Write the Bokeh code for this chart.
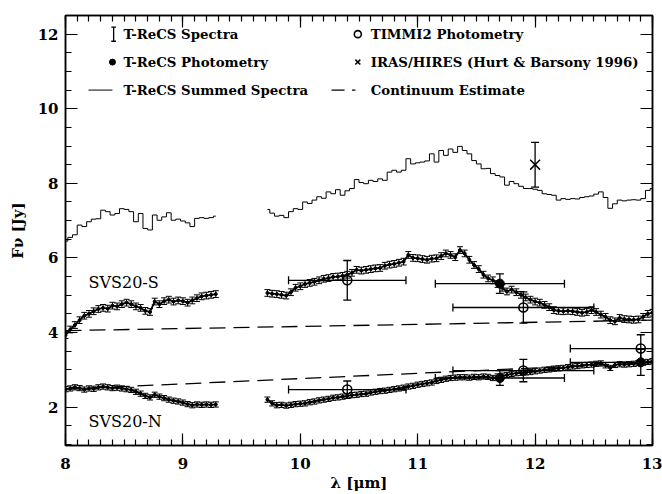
from bokeh.plotting import figure
from bokeh.models import (ColumnDataSource, Whisker, TeeHead, LinearAxis, Range1d,
                          SingleIntervalTicker, CustomLabelingPolicy)
from bokeh.core.properties import value
from bokeh.embed import file_html
from bokeh.resources import INLINE

# ---------------------------------------------------------------------------
# T-ReCS spectra, sampled on two wavelength segments (gap at the 9.6 um ozone band)
wl_a = [8.00, 8.04, 8.08, 8.12, 8.16, 8.20, 8.24, 8.28, 8.32, 8.36,
        8.40, 8.44, 8.48, 8.52, 8.56, 8.60, 8.64, 8.68, 8.72, 8.76,
        8.80, 8.84, 8.88, 8.92, 8.96, 9.00, 9.04, 9.08, 9.12, 9.16,
        9.20, 9.24, 9.28]
wl_b = [9.72, 9.76, 9.80, 9.84, 9.88, 9.92, 9.96, 10.00, 10.04, 10.08,
        10.12, 10.16, 10.20, 10.24, 10.28, 10.32, 10.36, 10.40, 10.44, 10.48,
        10.52, 10.56, 10.60, 10.64, 10.68, 10.72, 10.76, 10.80, 10.84, 10.88,
        10.92, 10.96, 11.00, 11.04, 11.08, 11.12, 11.16, 11.20, 11.24, 11.28,
        11.32, 11.36, 11.40, 11.44, 11.48, 11.52, 11.56, 11.60, 11.64, 11.68,
        11.72, 11.76, 11.80, 11.84, 11.88, 11.92, 11.96, 12.00, 12.04, 12.08,
        12.12, 12.16, 12.20, 12.24, 12.28, 12.32, 12.36, 12.40, 12.44, 12.48,
        12.52, 12.56, 12.60, 12.64, 12.68, 12.72, 12.76, 12.80, 12.84, 12.88,
        12.92, 12.96, 13.00]

# summed (N + S) spectrum [Jy]
summed_a = [6.45, 6.55, 6.62, 6.88, 6.84, 6.97, 7.04, 7.05, 7.28, 7.24,
            7.15, 7.19, 7.32, 7.30, 7.24, 6.97, 7.19, 6.79, 6.75, 7.15,
            7.01, 7.10, 7.21, 7.01, 7.04, 6.99, 6.94, 6.84, 7.06, 7.08,
            7.06, 7.08, 7.12]
summed_b = [7.30, 7.20, 7.12, 7.14, 7.08, 7.24, 7.32, 7.30, 7.50, 7.46,
            7.55, 7.64, 7.60, 7.77, 7.72, 7.83, 7.68, 7.80, 7.86, 8.10,
            8.02, 7.99, 8.08, 8.05, 8.12, 8.08, 8.30, 8.35, 8.30, 8.35,
            8.66, 8.52, 8.55, 8.57, 8.60, 8.79, 8.57, 8.88, 8.75, 8.92,
            8.83, 8.99, 8.88, 8.79, 8.61, 8.52, 8.39, 8.40, 8.26, 8.21,
            8.17, 7.95, 8.05, 7.99, 7.92, 7.86, 7.86, 7.84, 7.81, 7.72,
            7.70, 7.68, 7.55, 7.59, 7.57, 7.59, 7.58, 7.62, 7.64, 7.66,
            7.71, 7.77, 7.62, 7.33, 7.45, 7.55, 7.53, 7.55, 7.56, 7.55,
            7.59, 7.81, 7.86]

# SVS20-S spectrum [Jy]
svs_s_a = [3.93, 4.08, 4.20, 4.33, 4.45, 4.50, 4.57, 4.63, 4.66, 4.64,
           4.72, 4.70, 4.76, 4.80, 4.76, 4.70, 4.66, 4.58, 4.55, 4.83,
           4.76, 4.84, 4.88, 4.83, 4.86, 4.84, 4.80, 4.86, 4.92, 4.97,
           4.99, 5.01, 5.03]
svs_s_b = [5.06, 5.04, 5.03, 5.01, 4.99, 5.08, 5.20, 5.24, 5.30, 5.33,
           5.36, 5.40, 5.44, 5.46, 5.49, 5.50, 5.52, 5.55, 5.60, 5.68,
           5.66, 5.68, 5.70, 5.72, 5.73, 5.79, 5.82, 5.84, 5.87, 5.90,
           6.08, 6.00, 5.99, 5.97, 5.95, 5.98, 5.99, 6.05, 6.12, 6.08,
           6.02, 6.21, 6.12, 5.95, 5.81, 5.70, 5.55, 5.45, 5.40, 5.30,
           5.20, 5.10, 5.15, 5.08, 5.01, 4.94, 4.88, 4.83, 4.80, 4.74,
           4.68, 4.60, 4.58, 4.57, 4.58, 4.57, 4.55, 4.53, 4.55, 4.60,
           4.55, 4.48, 4.42, 4.33, 4.30, 4.39, 4.36, 4.35, 4.34, 4.35,
           4.42, 4.50, 4.53]
svs_s_err = 0.09

# SVS20-N spectrum [Jy]
svs_n_a = [2.48, 2.50, 2.53, 2.51, 2.47, 2.50, 2.49, 2.53, 2.55, 2.53,
           2.51, 2.52, 2.50, 2.48, 2.46, 2.41, 2.36, 2.30, 2.26, 2.33,
           2.28, 2.24, 2.20, 2.17, 2.15, 2.12, 2.08, 2.05, 2.07, 2.06,
           2.07, 2.06, 2.07]
svs_n_b = [2.20, 2.10, 2.05, 2.06, 2.04, 2.06, 2.08, 2.09, 2.10, 2.13,
           2.15, 2.18, 2.20, 2.22, 2.25, 2.26, 2.28, 2.30, 2.32, 2.33,
           2.35, 2.36, 2.39, 2.41, 2.43, 2.44, 2.46, 2.48, 2.50, 2.52,
           2.55, 2.57, 2.60, 2.62, 2.64, 2.66, 2.70, 2.73, 2.76, 2.78,
           2.79, 2.80, 2.80, 2.79, 2.81, 2.80, 2.82, 2.81, 2.78, 2.82,
           2.84, 2.86, 2.89, 2.91, 2.92, 2.93, 2.94, 2.96, 2.98, 3.00,
           3.01, 3.03, 3.04, 3.05, 3.07, 3.09, 3.10, 3.12, 3.13, 3.14,
           3.16, 3.17, 3.12, 3.05, 3.13, 3.15, 3.14, 3.15, 3.16, 3.18,
           3.19, 3.21, 3.23]
svs_n_err = 0.07

# continuum estimates (straight lines between the end points)
cont_wl = [8.0, 13.0]
cont_s = [4.05, 4.33]
cont_n = [2.48, 3.19]

# TIMMI2 photometry (open circles)
timmi_wl = [10.4, 11.9, 10.4, 11.9, 12.9]
timmi_f = [5.40, 4.67, 2.47, 2.98, 3.57]
timmi_wl_err = [0.5, 0.6, 0.5, 0.6, 0.6]
timmi_f_err = [0.53, 0.42, 0.23, 0.30, 0.37]

# T-ReCS photometry (filled circles)
trecs_wl = [11.7, 11.7, 12.9]
trecs_f = [5.31, 2.78, 3.20]
trecs_wl_err = [0.55, 0.55, 0.6]
trecs_f_err = [0.26, 0.20, 0.35]

# IRAS/HIRES point
iras_wl = [12.0]
iras_f = [8.5]
iras_f_err = [0.6]

# ---------------------------------------------------------------------------
FONT = "DejaVu Serif"

p = figure(width=662, height=494, x_range=Range1d(8, 13), y_range=Range1d(0.97, 12.5),
           output_backend="svg", toolbar_location=None,
           min_border_left=65, min_border_right=10, min_border_top=15, min_border_bottom=47,
           background_fill_color="white", border_fill_color="white")
p.grid.visible = False
p.outline_line_color = "black"
p.outline_line_width = 1.5

xt = SingleIntervalTicker(interval=1, num_minor_ticks=10)
yt = SingleIntervalTicker(interval=2, num_minor_ticks=4)
p.xaxis.ticker = xt
p.yaxis.ticker = yt
# mirrored tick marks on the top and right edges, without numbers
no_labels = CustomLabelingPolicy(code="for (const i of indices) { indices.unset(i) } return indices")
p.add_layout(LinearAxis(ticker=xt, major_label_policy=no_labels), "above")
p.add_layout(LinearAxis(ticker=yt, major_label_policy=no_labels), "right")

for ax in p.axis:
    ax.axis_line_color = "black"
    ax.axis_line_width = 1.5
    ax.major_tick_in = 12
    ax.major_tick_out = 0
    ax.minor_tick_in = 6
    ax.minor_tick_out = 0
    ax.major_tick_line_color = "black"
    ax.minor_tick_line_color = "black"
    ax.major_tick_line_width = 1.2
    ax.minor_tick_line_width = 1.2
    ax.major_label_text_font = FONT
    ax.major_label_text_font_size = "15px"
    ax.major_label_text_font_style = "bold"
    ax.major_label_text_color = "black"
    ax.axis_label_text_font = FONT
    ax.axis_label_text_font_size = "15px"
    ax.axis_label_text_font_style = "bold"
    ax.axis_label_text_color = "black"

for ax in (p.above[0], p.right[0]):
    ax.major_label_text_font_size = "0px"
    ax.major_label_standoff = 0

p.below[0].major_label_standoff = 12
p.below[0].axis_label = "λ [μm]"
p.below[0].axis_label_standoff = 2
p.left[0].major_label_standoff = 7
p.left[0].axis_label = "Fν [Jy]"
p.left[0].axis_label_standoff = 8

# continuum estimates
p.line(cont_wl, cont_s, line_color="black", line_width=1.3, line_dash="16 8")
p.line(cont_wl, cont_n, line_color="black", line_width=1.3, line_dash="16 8")

# summed spectrum as a histogram-style step line
p.step(wl_a, summed_a, mode="center", line_color="black", line_width=1)
p.step(wl_b, summed_b, mode="center", line_color="black", line_width=1)


def spectrum(wl, flux, err):
    src = ColumnDataSource(dict(x=wl, y=flux,
                                lo=[f - err for f in flux], hi=[f + err for f in flux]))
    p.line("x", "y", source=src, line_color="black", line_width=1.8)
    p.scatter("x", "y", source=src, size=3, color="black")
    p.add_layout(Whisker(source=src, base="x", lower="lo", upper="hi", dimension="height",
                         line_color="black", line_width=1,
                         lower_head=TeeHead(size=6, line_color="black", line_width=1),
                         upper_head=TeeHead(size=6, line_color="black", line_width=1)))


spectrum(wl_a, svs_s_a, svs_s_err)
spectrum(wl_b, svs_s_b, svs_s_err)
spectrum(wl_a, svs_n_a, svs_n_err)
spectrum(wl_b, svs_n_b, svs_n_err)


def error_bars(wl, flux, wl_err, f_err):
    src = ColumnDataSource(dict(
        x=wl, y=flux,
        xl=[w - e for w, e in zip(wl, wl_err)] if wl_err else wl,
        xh=[w + e for w, e in zip(wl, wl_err)] if wl_err else wl,
        yl=[f - e for f, e in zip(flux, f_err)], yh=[f + e for f, e in zip(flux, f_err)]))
    if wl_err:
        p.add_layout(Whisker(source=src, base="y", lower="xl", upper="xh", dimension="width",
                             line_color="black", line_width=1.3,
                             lower_head=TeeHead(size=8, line_color="black", line_width=1.3),
                             upper_head=TeeHead(size=8, line_color="black", line_width=1.3)))
    p.add_layout(Whisker(source=src, base="x", lower="yl", upper="yh", dimension="height",
                         line_color="black", line_width=1.3,
                         lower_head=TeeHead(size=8, line_color="black", line_width=1.3),
                         upper_head=TeeHead(size=8, line_color="black", line_width=1.3)))
    return src


s_timmi = error_bars(timmi_wl, timmi_f, timmi_wl_err, timmi_f_err)
p.scatter("x", "y", source=s_timmi, size=9, marker="circle", fill_color=None,
          line_color="black", line_width=1.6)
s_trecs = error_bars(trecs_wl, trecs_f, trecs_wl_err, trecs_f_err)
p.scatter("x", "y", source=s_trecs, size=9, marker="circle", color="black")
s_iras = error_bars(iras_wl, iras_f, None, iras_f_err)
p.scatter("x", "y", source=s_iras, size=14, marker="x", line_color="black", line_width=1.5)

# source labels
p.text([8.196], [5.33], text=["SVS20-S"], text_font=value(FONT), text_font_size="16px",
       text_baseline="middle", text_align="left", text_color="black")
p.text([8.196], [1.61], text=["SVS20-N"], text_font=value(FONT), text_font_size="16px",
       text_baseline="middle", text_align="left", text_color="black")

# key
key_rows = [12.0, 11.25, 10.5]
left_text = ["T-ReCS Spectra", "T-ReCS Photometry", "T-ReCS Summed Spectra"]
right_text = ["TIMMI2 Photometry", "IRAS/HIRES (Hurt & Barsony 1996)", "Continuum Estimate"]
p.text([8.494] * 3, key_rows, text=left_text, text_font=value(FONT), text_font_size="13.3px",
       text_font_style="bold", text_baseline="middle", text_align="left", text_color="black")
p.text([10.60] * 3, key_rows, text=right_text, text_font=value(FONT), text_font_size="13.3px",
       text_font_style="bold", text_baseline="middle", text_align="left", text_color="black")

p.segment([8.41], [11.81], [8.41], [12.19], line_color="black", line_width=1.3)
p.segment([8.39, 8.39], [11.81, 12.19], [8.43, 8.43], [11.81, 12.19], line_color="black",
          line_width=1.3)
p.scatter([8.40], [11.25], size=6, color="black")
p.segment([8.196], [10.5], [8.40], [10.5], line_color="black", line_width=1)
p.scatter([10.49], [12.0], size=7, marker="circle", fill_color=None, line_color="black",
          line_width=1.6)
p.scatter([10.49], [11.25], size=7, marker="x", line_color="black", line_width=1.5)
p.segment([10.266, 10.44], [10.5, 10.5], [10.377, 10.47], [10.5, 10.5], line_color="black",
          line_width=1.3)

open("out.html", "w").write(file_html(p, INLINE))
